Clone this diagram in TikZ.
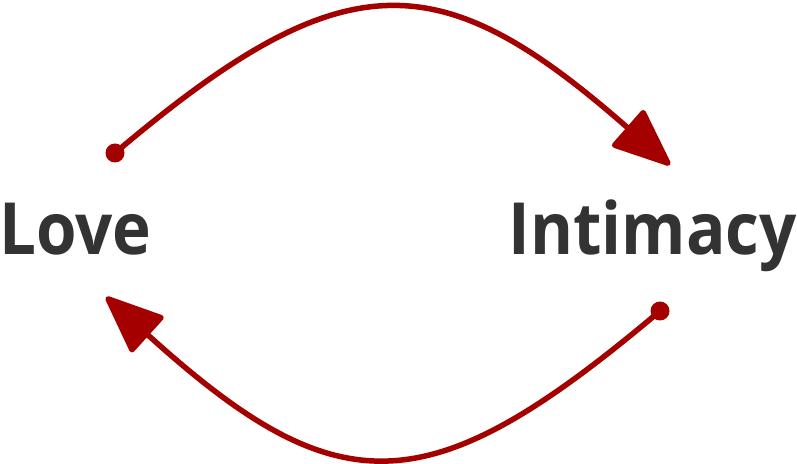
\documentclass[tikz,border=0pt]{standalone}
\usepackage{fontspec}
\newfontfamily\wordfont[Ligatures=NoCommon,FakeStretch=0.91]{Open Sans}
\usepackage{tikz}
\usetikzlibrary{arrows.meta,positioning}
\definecolor{loopred}{HTML}{A50000}
\definecolor{wordgray}{HTML}{333333}
\tikzset{
    %Define standard arrow tip
    >={Triangle[length=62pt,width=50pt,round]},
    %Define style for the words
    ord/.style={
           inner sep=0pt,
           text=wordgray,
           font=\wordfont\fontsize{72}{80}\selectfont\bfseries},
    %Define style for the dots
    prik/.style={
           circle,
           fill=loopred,
           inner sep=0pt,
           minimum size=19pt},
    % Define arrow style
    pil/.style={
           ->,
           draw=loopred,
           line width=5.5pt,
           line join=round}
}
\begin{document}
\begin{tikzpicture}[x=1pt,y=1pt]
\useasboundingbox (0,0) rectangle (797,463);
\node[ord, anchor=base west](love) at (-1,208){Love};
\node[ord, anchor=base east](intimacy) at (797,208){Intimacy};
\coordinate(love out) at (115,310);
\coordinate(love in) at (106,166);
\coordinate(intimacy in) at (670,298);
\coordinate(intimacy out) at (660,152);
\node[prik] at (love out){};
\node[prik] at (intimacy out){};
\draw[pil] (love out) .. controls (345,505) and (440,500) .. (intimacy in);
\draw[pil] (intimacy out) .. controls (430,-42) and (340,-46) .. (love in);
\end{tikzpicture}
\end{document}
